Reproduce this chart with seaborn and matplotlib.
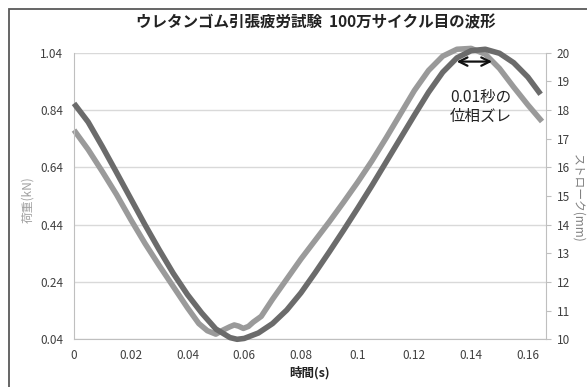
import matplotlib
matplotlib.use("Agg")
import matplotlib.pyplot as plt
from matplotlib.patches import Rectangle
import pandas as pd
import seaborn as sns

# ---- data ----
load_time = [0.000, 0.005, 0.010, 0.015, 0.020, 0.025, 0.030, 0.035, 0.040, 0.044,
             0.047, 0.050, 0.0525, 0.055, 0.0565, 0.058, 0.0597, 0.0615, 0.0632, 0.066,
             0.070, 0.075, 0.080, 0.085, 0.090, 0.095, 0.100, 0.105, 0.110, 0.115,
             0.120, 0.125, 0.130, 0.135, 0.140, 0.145, 0.150, 0.155, 0.160, 0.165]
load_kN = [0.770, 0.702, 0.625, 0.545, 0.458, 0.375, 0.298, 0.224, 0.150, 0.095,
           0.070, 0.058, 0.072, 0.084, 0.090, 0.086, 0.078, 0.085, 0.100, 0.120,
           0.180, 0.250, 0.320, 0.385, 0.450, 0.518, 0.588, 0.662, 0.742, 0.825,
           0.908, 0.978, 1.028, 1.052, 1.055, 1.035, 0.985, 0.920, 0.858, 0.800]

stroke_time = [0.000, 0.005, 0.010, 0.015, 0.020, 0.025, 0.030, 0.035, 0.040, 0.045,
               0.050, 0.055, 0.0575, 0.060, 0.065, 0.070, 0.075, 0.080, 0.085, 0.090,
               0.095, 0.100, 0.105, 0.110, 0.115, 0.120, 0.125, 0.130, 0.135, 0.140,
               0.145, 0.150, 0.155, 0.160, 0.1645]
stroke_mm = [18.23, 17.58, 16.72, 15.82, 14.91, 14.00, 13.13, 12.30, 11.56, 10.92,
             10.36, 10.06, 10.00, 10.03, 10.22, 10.55, 11.02, 11.62, 12.32, 13.05,
             13.80, 14.57, 15.36, 16.18, 17.00, 17.82, 18.62, 19.32, 19.82, 20.07,
             20.12, 19.98, 19.65, 19.15, 18.55]

x_ticks = [0, 0.02, 0.04, 0.06, 0.08, 0.10, 0.12, 0.14, 0.16]
x_ticklabels = ["0", "0.02", "0.04", "0.06", "0.08", "0.1", "0.12", "0.14", "0.16"]
load_ticks = [0.04, 0.24, 0.44, 0.64, 0.84, 1.04]
load_ticklabels = ["0.04", "0.24", "0.44", "0.64", "0.84", "1.04"]
stroke_ticks = [10, 11, 12, 13, 14, 15, 16, 17, 18, 19, 20]

title = "ウレタンゴム引張疲労試験  100万サイクル目の波形"
xlabel = "時間(s)"
ylabel_left = "荷重(kN)"
ylabel_right = "ストローク(mm)"
note_line1 = "0.01秒の"
note_line2 = "位相ズレ"

load_df = pd.DataFrame({"t": load_time, "v": load_kN})
stroke_df = pd.DataFrame({"t": stroke_time, "v": stroke_mm})

# ---- style ----
sns.set_style("white")
plt.rcParams["font.family"] = ["Noto Sans CJK JP", "DejaVu Sans"]

W, H = 587, 387
fig = plt.figure(figsize=(W / 100, H / 100), dpi=100)
left_px, right_px, top_px, bottom_px = 74, 546, 52.7, 339.3
ax = fig.add_axes([left_px / W, 1 - bottom_px / H,
                   (right_px - left_px) / W, (bottom_px - top_px) / H])
ax2 = ax.twinx()

light = "#9a9a9a"
dark = "#6b6b6b"
grid_c = "#d9d9d9"
axis_c = "#bfbfbf"
tick_c = "#404040"

sns.lineplot(data=load_df, x="t", y="v", ax=ax, color=light, linewidth=4.0,
             sort=False, estimator=None)
sns.lineplot(data=stroke_df, x="t", y="v", ax=ax2, color=dark, linewidth=4.0,
             sort=False, estimator=None)
for a in (ax, ax2):
    for ln in a.get_lines():
        ln.set_clip_on(False)
        ln.set_solid_capstyle("butt")
        ln.set_solid_joinstyle("round")

ax.set_xlim(0, 0.1664)
ax.set_ylim(0.04, 1.04)
ax2.set_ylim(10, 20)

ax.set_xticks(x_ticks)
ax.set_xticklabels(x_ticklabels)
ax.set_yticks(load_ticks)
ax.set_yticklabels(load_ticklabels)
ax2.set_yticks(stroke_ticks)

ax.grid(False)
ax.yaxis.grid(True, color=grid_c, linewidth=1.0)
ax2.grid(False)
ax.set_axisbelow(True)

for s in ("top", "right"):
    ax.spines[s].set_visible(False)
ax.spines["left"].set_color(axis_c)
ax.spines["bottom"].set_color(axis_c)
for s in ("top", "left", "bottom"):
    ax2.spines[s].set_visible(False)
ax2.spines["right"].set_color(axis_c)

ax.tick_params(axis="x", length=0, pad=7, labelsize=8.5, labelcolor=tick_c)
ax.tick_params(axis="y", length=0, pad=8, labelsize=8.5, labelcolor=tick_c)
ax2.tick_params(axis="y", length=3.6, width=0.8, color=axis_c, direction="out",
                pad=4, labelsize=8.5, labelcolor=tick_c)

ax.set_xlabel(xlabel, fontsize=9, fontweight="bold", color="#222222", labelpad=3)
ax.set_ylabel("")
ax2.set_ylabel("")
fig.text(28 / W, 1 - 200 / H, ylabel_left, rotation=90, ha="center", va="center",
         fontsize=8.5, color="#a0a0a0")
fig.text(578 / W, 1 - 198 / H, ylabel_right, rotation=-90, ha="center", va="center",
         fontsize=8.5, color="#7f7f7f")

fig.text(316 / W, 1 - 22 / H, title, ha="center", va="center",
         fontsize=11.2, fontweight="bold", color="#222222")

# annotation
ax.annotate("", xy=(0.1349, 1.009), xytext=(0.1474, 1.009),
            arrowprops=dict(arrowstyle="<->", lw=1.6, color="#111111",
                            shrinkA=0, shrinkB=0, mutation_scale=15))
ax.text(0.1435, 0.885, note_line1, ha="center", va="center", fontsize=11.2, color="#222222")
ax.text(0.1435, 0.819, note_line2, ha="center", va="center", fontsize=11.2, color="#222222")

# outer chart frame (cropped on right/bottom as in reference)
fig.patches.append(Rectangle((9 / W, -0.1), 1.2, 1 - 9 / H + 0.1,
                             transform=fig.transFigure, fill=False,
                             edgecolor="#595959", linewidth=1.3))

fig.savefig("out.png", dpi=100)
